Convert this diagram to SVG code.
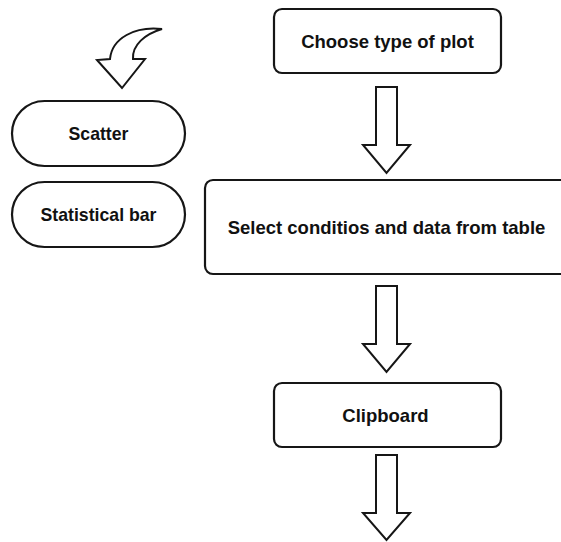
<svg xmlns="http://www.w3.org/2000/svg" width="561" height="542" viewBox="0 0 561 542">
<style>
.box{fill:#fff;stroke:#161616;stroke-width:2.2}
.arr{fill:#fff;stroke:#161616;stroke-width:2;stroke-linejoin:miter}
.t{font-family:"Liberation Sans",Arial,sans-serif;font-weight:bold;fill:#111;text-anchor:middle}
.big{font-size:18.5px}
.sm{font-size:17.7px}
</style>
<rect width="561" height="542" fill="#fff"/>
<g id="connectors">
<path class="arr" d="M162 29 C135 26,112 38,110 59 L97 60 L122 88 L145 59 L133 59 C132 45,145 34,162 29 Z"/>
<path class="arr" d="M376 87 H397 V145 H410 L386.5 173 L363 145 H376 Z"/>
<path class="arr" d="M376 286 H397 V344 H410 L386.5 372 L363 344 H376 Z"/>
<path class="arr" d="M376 455 H397 V513 H410 L386.5 540 L363 513 H376 Z"/>
</g>
<g id="choose">
<rect class="box" x="274" y="9" width="227" height="64" rx="8"/>
<text class="t big" x="387.5" y="47.5">Choose type of plot</text>
</g>
<g id="select">
<rect class="box" x="205" y="180" width="364" height="94" rx="8"/>
<text class="t big" x="386.5" y="234">Select conditios and data from table</text>
</g>
<g id="clipboard">
<rect class="box" x="274" y="383" width="227" height="64" rx="8"/>
<text class="t big" x="385.5" y="422">Clipboard</text>
</g>
<g id="scatter">
<rect class="box" x="12" y="101" width="173" height="65" rx="32.5"/>
<text class="t sm" x="98.5" y="140">Scatter</text>
</g>
<g id="statbar">
<rect class="box" x="12" y="182" width="173" height="65" rx="32.5"/>
<text class="t sm" x="98.5" y="220.5">Statistical bar</text>
</g>
</svg>
